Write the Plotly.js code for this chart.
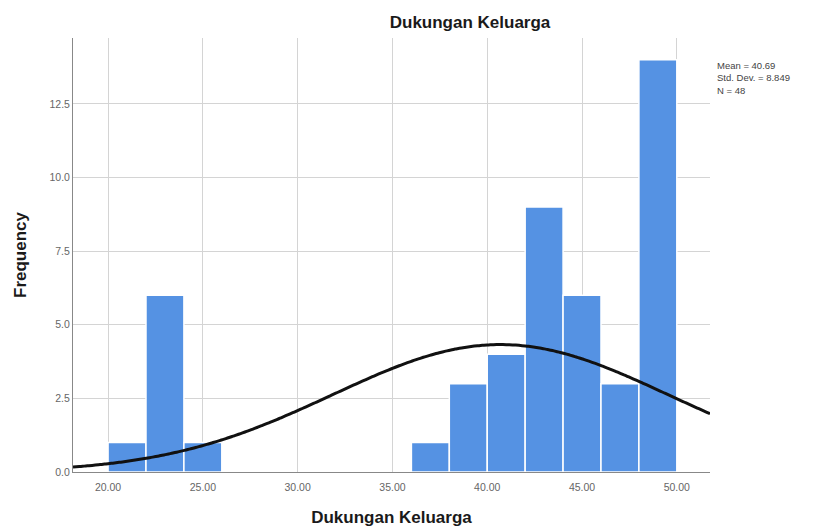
<!DOCTYPE html>
<html>
<head>
<meta charset="utf-8">
<script src="https://cdn.plot.ly/plotly-3.0.1.min.js"></script>
<style>html,body{margin:0;padding:0;background:#fff;}#chart{width:816px;height:529px;}</style>
</head>
<body>
<div id="chart"></div>
<script>
// Histogram bins (start of each bin, width 2) and frequencies
const binStarts = [20, 22, 24, 36, 38, 40, 42, 44, 46, 48];
const frequencies = [1, 6, 1, 1, 3, 4, 9, 6, 3, 14];
const binWidth = 2;
// Summary statistics shown in the legend
const meanVal = 40.69;
const stdDev = 8.849;
const nCount = 48;
const xTickVals = [20, 25, 30, 35, 40, 45, 50];
const xTickText = ["20.00", "25.00", "30.00", "35.00", "40.00", "45.00", "50.00"];
const yTickVals = [0, 2.5, 5, 7.5, 10, 12.5];
const yTickText = ["0.0", "2.5", "5.0", "7.5", "10.0", "12.5"];

const xMin = 18.15, xMax = 51.75;
const centers = binStarts.map(s => s + binWidth / 2);

// Fitted normal curve (SPSS "display normal curve") from the stated mean, SD and N
const curveX = [], curveY = [];
for (let i = 0; i <= 200; i++) {
  const x = xMin + (xMax - xMin) * i / 200;
  const z = (x - meanVal) / stdDev;
  curveX.push(x);
  curveY.push(nCount * binWidth * Math.exp(-0.5 * z * z) / (stdDev * Math.sqrt(2 * Math.PI)));
}

const font = "Liberation Sans, Arial, sans-serif";
const data = [
  {
    type: "bar", x: centers, y: frequencies, width: binWidth,
    marker: {color: "#5592e3", line: {color: "#ffffff", width: 1.5}},
    hoverinfo: "x+y", showlegend: false
  },
  {
    type: "scatter", mode: "lines", x: curveX, y: curveY,
    line: {color: "#111111", width: 3, shape: "spline"}, showlegend: false, hoverinfo: "skip"
  }
];

const layout = {
  width: 816, height: 529,
  margin: {l: 73, r: 106, t: 38, b: 57},
  paper_bgcolor: "#ffffff", plot_bgcolor: "#ffffff",
  font: {family: font, color: "#333"},
  title: {text: "Dukungan Keluarga", font: {family: font, size: 17, color: "#1a1a1a", weight: "bold"},
          x: 0.576, xanchor: "center", y: 0.958, yanchor: "middle"},
  bargap: 0,
  xaxis: {
    range: [xMin, xMax], tickvals: xTickVals, ticktext: xTickText,
    tickfont: {size: 10.5, color: "#666"}, showgrid: true, gridcolor: "#d4d4d4", gridwidth: 1,
    showline: true, linecolor: "#888", linewidth: 1, zeroline: false, ticks: "", ticklabelstandoff: 5,
    title: {text: "Dukungan Keluarga", font: {family: font, size: 17, color: "#1a1a1a", weight: "bold"}, standoff: 19}
  },
  yaxis: {
    range: [0, 14.74], tickvals: yTickVals, ticktext: yTickText,
    tickfont: {size: 10.5, color: "#666"}, showgrid: true, gridcolor: "#d4d4d4", gridwidth: 1,
    showline: true, linecolor: "#888", linewidth: 1, zeroline: false, ticks: "",
    title: {text: "Frequency", font: {family: font, size: 17, color: "#1a1a1a", weight: "bold"}, standoff: 18}
  },
  annotations: [{
    xref: "paper", yref: "paper", x: 1.008, y: 0.953, xanchor: "left", yanchor: "top", align: "left",
    showarrow: false,
    text: "Mean = " + meanVal.toFixed(2) + "<br>Std. Dev. = " + stdDev.toFixed(3) + "<br>N = " + nCount,
    font: {family: font, size: 9.5, color: "#444"}
  }]
};

Plotly.newPlot("chart", data, layout, {displayModeBar: false, staticPlot: true});
</script>
</body>
</html>
